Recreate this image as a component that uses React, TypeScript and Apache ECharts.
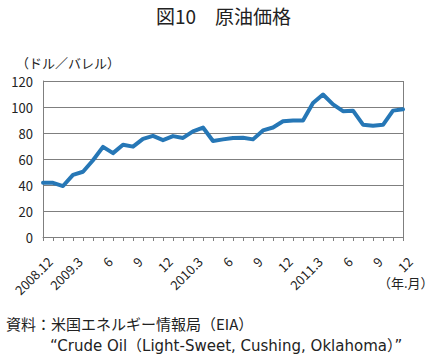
import React, { useEffect, useRef } from "react";
import * as echarts from "echarts";

const categories = [
  "2008.12", "2009.1", "2009.2", "2009.3", "2009.4", "2009.5", "2009.6", "2009.7", "2009.8", "2009.9", "2009.10", "2009.11", "2009.12",
  "2010.1", "2010.2", "2010.3", "2010.4", "2010.5", "2010.6", "2010.7", "2010.8", "2010.9", "2010.10", "2010.11", "2010.12",
  "2011.1", "2011.2", "2011.3", "2011.4", "2011.5", "2011.6", "2011.7", "2011.8", "2011.9", "2011.10", "2011.11", "2011.12",
];

const tickLabels = [
  "2008.12", "", "", "2009.3", "", "", "6", "", "", "9", "", "", "12",
  "", "", "2010.3", "", "", "6", "", "", "9", "", "", "12",
  "", "", "2011.3", "", "", "6", "", "", "9", "", "", "12",
];

const crudeOil = [
  41.7, 41.7, 39.2, 47.8, 50.2, 59.0, 69.3, 64.5, 71.0, 69.5, 75.5, 77.8, 74.5,
  77.6, 76.2, 81.3, 84.2, 73.9, 75.1, 76.2, 76.3, 75.1, 82.0, 84.2, 89.0,
  89.7, 89.7, 103.0, 109.6, 102.0, 96.8, 97.2, 86.4, 85.6, 86.3, 97.2, 98.3,
];

const FONT = "'Noto Sans CJK JP', 'Noto Sans', sans-serif";
const WIDE = "'DejaVu Sans', 'Noto Sans CJK JP', sans-serif";

export default function App() {
  const ref = useRef<HTMLDivElement>(null);
  useEffect(() => {
    if (!ref.current) return;
    const chart = echarts.init(ref.current, undefined, { renderer: "svg" });
    chart.setOption({
      animation: false,
      backgroundColor: "#ffffff",
      grid: { left: 43, right: 44, top: 81, bottom: 124, containLabel: false },
      xAxis: {
        type: "category",
        data: categories,
        boundaryGap: false,
        axisLine: { show: true, lineStyle: { color: "#7f7f7f", width: 1 } },
        axisTick: { show: true, interval: 0, length: 4, lineStyle: { color: "#7f7f7f" } },
        axisLabel: {
          interval: 0,
          rotate: 45,
          margin: 15,
          align: "right",
          verticalAlign: "top",
          lineHeight: 20,
          color: "#222",
          fontSize: 13,
          fontFamily: FONT,
          formatter: (_v: string, i: number) => tickLabels[i],
        },
        splitLine: { show: false },
      },
      yAxis: {
        type: "value",
        min: 0,
        max: 120,
        interval: 20,
        axisLine: { show: true, lineStyle: { color: "#7f7f7f", width: 1 } },
        axisTick: { show: false },
        axisLabel: { color: "#222", fontSize: 13, fontFamily: FONT, margin: 10 },
        splitLine: { show: true, lineStyle: { color: "#7f7f7f", width: 1 } },
      },
      series: [
        {
          type: "line",
          data: crudeOil,
          symbol: "none",
          lineStyle: { color: "#2677b6", width: 4, join: "round", cap: "round" },
          z: 5,
        },
      ],
      graphic: [
        {
          type: "line",
          shape: { x1: 403.5, y1: 81, x2: 403.5, y2: 237 },
          style: { stroke: "#7f7f7f", lineWidth: 1 },
          z: 1,
        },
        {
          type: "text",
          left: "center",
          top: 6,
          style: { text: "図10　原油価格", font: `19px ${FONT}`, fill: "#222" },
        },
        {
          type: "text",
          left: 16,
          top: 56,
          style: { text: "（ドル／バレル）", font: `13px ${FONT}`, fill: "#222" },
        },
        {
          type: "text",
          left: 378,
          top: 276,
          style: { text: "（年.月）", font: `13px ${FONT}`, fill: "#222" },
        },
        {
          type: "text",
          left: 6,
          top: 316,
          style: { text: "資料：米国エネルギー情報局（EIA）", font: `15px ${FONT}`, fill: "#222" },
        },
        {
          type: "text",
          left: 50,
          top: 338,
          style: { text: "“Crude Oil（Light-Sweet, Cushing, Oklahoma）”", font: `15px ${WIDE}`, fill: "#222" },
        },
      ],
    });
    return () => chart.dispose();
  }, []);
  return <div ref={ref} style={{ width: 447, height: 361, position: "absolute", left: 0, top: 0 }} />;
}
